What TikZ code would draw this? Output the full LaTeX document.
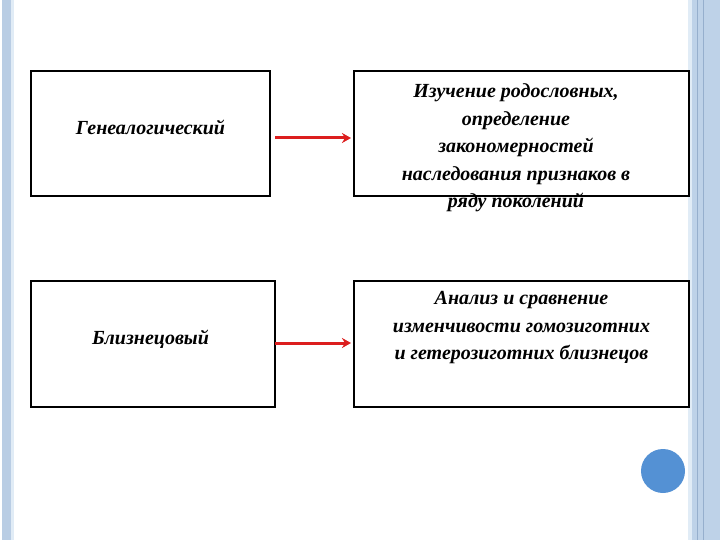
\documentclass[tikz,border=0pt]{standalone}
\usepackage{fontspec}
\setmainfont{Liberation Serif}
\usetikzlibrary{arrows.meta}
\definecolor{stripA}{RGB}{185,205,228}
\definecolor{stripB}{RGB}{225,236,246}
\definecolor{stripC}{RGB}{190,210,232}
\definecolor{lineC}{RGB}{150,175,205}
\definecolor{arrC}{RGB}{220,30,30}
\definecolor{circC}{RGB}{84,145,212}
\newcommand{\bigtxt}{\fontsize{20}{27.5}\selectfont\bfseries\itshape}
\begin{document}
\begin{tikzpicture}[x=1pt,y=-1pt,
 box/.style={draw=black,line width=1.1pt,inner sep=0pt},
 txt/.style={align=center,font=\bigtxt},
 arr/.style={draw=arrC,line width=3pt,-{Stealth[length=9pt,width=10pt]}}]
\useasboundingbox (0,0) rectangle (720,540);
\fill[white] (0,0) rectangle (720,540);
\fill[stripA] (2,0) rectangle (11,540);
\fill[stripB] (11,0) rectangle (14,540);
\fill[stripB] (688,0) rectangle (692,540);
\fill[stripC] (692,0) rectangle (720,540);
\draw[lineC,line width=0.6pt] (697,0) -- (697,540) (703,0) -- (703,540);
\node[box,minimum width=239pt,minimum height=125pt] (l1) at (150.5,133.5) {};
\node[box,minimum width=335pt,minimum height=125pt] (r1) at (521.5,133.5) {};
\node[box,minimum width=244pt,minimum height=126pt] (l2) at (153,344) {};
\node[box,minimum width=335pt,minimum height=126pt] (r2) at (521.5,344) {};
\node[txt] (t1) at (150.5,127) {\bigtxt Генеалогический};
\node[txt] (t2) at (150.5,339) {\bigtxt Близнецовый};
\node[txt] (t3) at (516,148) {\bigtxt Изучение родословных,\\\bigtxt определение\\\bigtxt закономерностей\\\bigtxt наследования признаков в\\\bigtxt ряду поколений};
\node[txt] (t4) at (521.5,328) {\bigtxt Анализ и сравнение\\\bigtxt изменчивости гомозиготних\\\bigtxt и гетерозиготних близнецов};
\coordinate (a1) at (275,138); \coordinate (b1) at (351,138);
\coordinate (a2) at (275,343); \coordinate (b2) at (351,343);
\draw[arr] (a1) -- (b1);
\draw[arr] (a2) -- (b2);
\node[circle,fill=circC,minimum size=44pt,inner sep=0pt] (c) at (663,471) {};
\end{tikzpicture}
\end{document}
